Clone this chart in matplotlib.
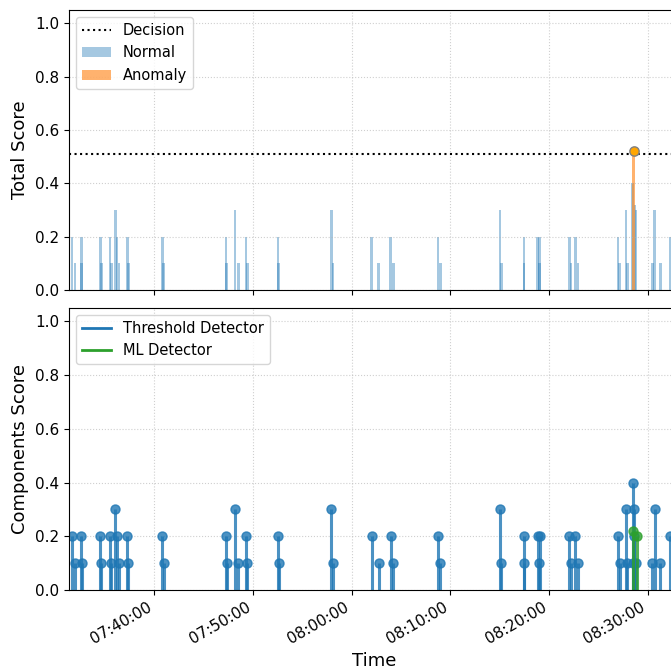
import matplotlib
matplotlib.use("Agg")
import matplotlib.pyplot as plt
import matplotlib.dates as mdates
from matplotlib.lines import Line2D
from matplotlib.patches import Patch
import pandas as pd

DAY = "2024-01-01 "

# Threshold detector component events (time, score)
thr_times = [
    "07:31:40", "07:31:56", "07:32:36", "07:32:38", "07:34:32", "07:34:38",
    "07:35:29", "07:35:39", "07:36:03", "07:36:13", "07:36:24", "07:37:16",
    "07:37:22", "07:40:49", "07:40:56", "07:47:14", "07:47:19", "07:48:11",
    "07:48:31", "07:49:18", "07:49:25", "07:52:32", "07:52:35", "07:57:56",
    "07:58:05", "08:02:01", "08:02:43", "08:03:57", "08:04:14", "08:08:44",
    "08:08:59", "08:15:01", "08:15:10", "08:17:26", "08:17:27", "08:18:50",
    "08:19:02", "08:19:01", "08:22:03", "08:22:12", "08:22:40", "08:22:57",
    "08:26:58", "08:27:09", "08:27:48", "08:27:56", "08:28:32", "08:28:39",
    "08:28:35", "08:28:33", "08:28:51", "08:30:28", "08:30:42", "08:31:17",
    "08:32:15",
]
thr_values = [
    0.2, 0.1, 0.2, 0.1, 0.2, 0.1,
    0.2, 0.1, 0.3, 0.2, 0.1, 0.2,
    0.1, 0.2, 0.1, 0.2, 0.1, 0.3,
    0.1, 0.2, 0.1, 0.2, 0.1, 0.3,
    0.1, 0.2, 0.1, 0.2, 0.1, 0.2,
    0.1, 0.3, 0.1, 0.2, 0.1, 0.2,
    0.2, 0.1, 0.2, 0.1, 0.2, 0.1,
    0.2, 0.1, 0.3, 0.1, 0.4, 0.3,
    0.2, 0.1, 0.1, 0.1, 0.3, 0.1,
    0.2,
]

# ML detector component events
ml_times = ["08:28:29", "08:28:53"]
ml_values = [0.22, 0.2]

# Total score events
tot_times = thr_times[:46] + ["08:28:28", "08:28:34", "08:28:42", "08:28:50"] + thr_times[51:]
tot_values = thr_values[:46] + [0.4, 0.52, 0.32, 0.3] + thr_values[51:]

decision = 0.51
x_start, x_end = "07:31:21", "08:33:16"

thr_t = pd.to_datetime([DAY + t for t in thr_times])
ml_t = pd.to_datetime([DAY + t for t in ml_times])
tot_t = pd.to_datetime([DAY + t for t in tot_times])

fig = plt.figure(figsize=(6.71, 6.69), dpi=100)
left = 69 / 671
width = (680 - 69) / 671
ax1 = fig.add_axes([left, 1 - 290 / 669, width, 280 / 669])
ax2 = fig.add_axes([left, 1 - 590 / 669, width, 282 / 669], sharex=ax1)

bar_w = 15 / 86400.0
normal_t = [t for t, v in zip(tot_t, tot_values) if v <= decision]
normal_v = [v for v in tot_values if v <= decision]
anom_t = [t for t, v in zip(tot_t, tot_values) if v > decision]
anom_v = [v for v in tot_values if v > decision]

ax1.bar(normal_t, normal_v, width=bar_w, color="tab:blue", alpha=0.4, align="center")
ax1.bar(anom_t, anom_v, width=bar_w, color="tab:orange", alpha=0.6, align="center")
ax1.scatter(anom_t, anom_v, color="orange", edgecolor="grey", s=45, zorder=5)
ax1.axhline(decision, color="black", linestyle=":", linewidth=1.5)
ax1.set_ylim(0, 1.05)
ax1.set_ylabel("Total Score", fontsize=13)
ax1.grid(True, linestyle=":", alpha=0.6)
ax1.tick_params(labelbottom=False, labelsize=11)
h1 = [Line2D([], [], color="black", linestyle=":", linewidth=1.5),
      Patch(facecolor="tab:blue", alpha=0.4),
      Patch(facecolor="tab:orange", alpha=0.6)]
ax1.legend(h1, ["Decision", "Normal", "Anomaly"], loc="upper left", fontsize=10.5)

ml_, sl_, bl_ = ax2.stem(thr_t, thr_values, basefmt=" ")
plt.setp(sl_, color="tab:blue", linewidth=2.2, alpha=0.8)
plt.setp(ml_, color="tab:blue", markersize=6.5, alpha=0.8)
ml2, sl2, bl2 = ax2.stem(ml_t, ml_values, basefmt=" ")
plt.setp(sl2, color="tab:green", linewidth=2.2, alpha=0.8)
plt.setp(ml2, color="tab:green", markersize=6.5, alpha=0.8)
ax2.set_ylim(0, 1.05)
ax2.set_ylabel("Components Score", fontsize=13)
ax2.set_xlabel("Time", fontsize=13)
ax2.grid(True, linestyle=":", alpha=0.6)
ax2.tick_params(labelsize=11)
h2 = [Line2D([], [], color="tab:blue", linewidth=2),
      Line2D([], [], color="tab:green", linewidth=2)]
ax2.legend(h2, ["Threshold Detector", "ML Detector"], loc="upper left", fontsize=10.5)

ax2.set_xlim(pd.Timestamp(DAY + x_start), pd.Timestamp(DAY + x_end))
ax2.xaxis.set_major_locator(mdates.MinuteLocator(byminute=range(0, 60, 10)))
ax2.xaxis.set_major_formatter(mdates.DateFormatter("%H:%M:%S"))
for lab in ax2.get_xticklabels():
    lab.set_rotation(30)
    lab.set_ha("right")

fig.savefig("out.png", dpi=100)
